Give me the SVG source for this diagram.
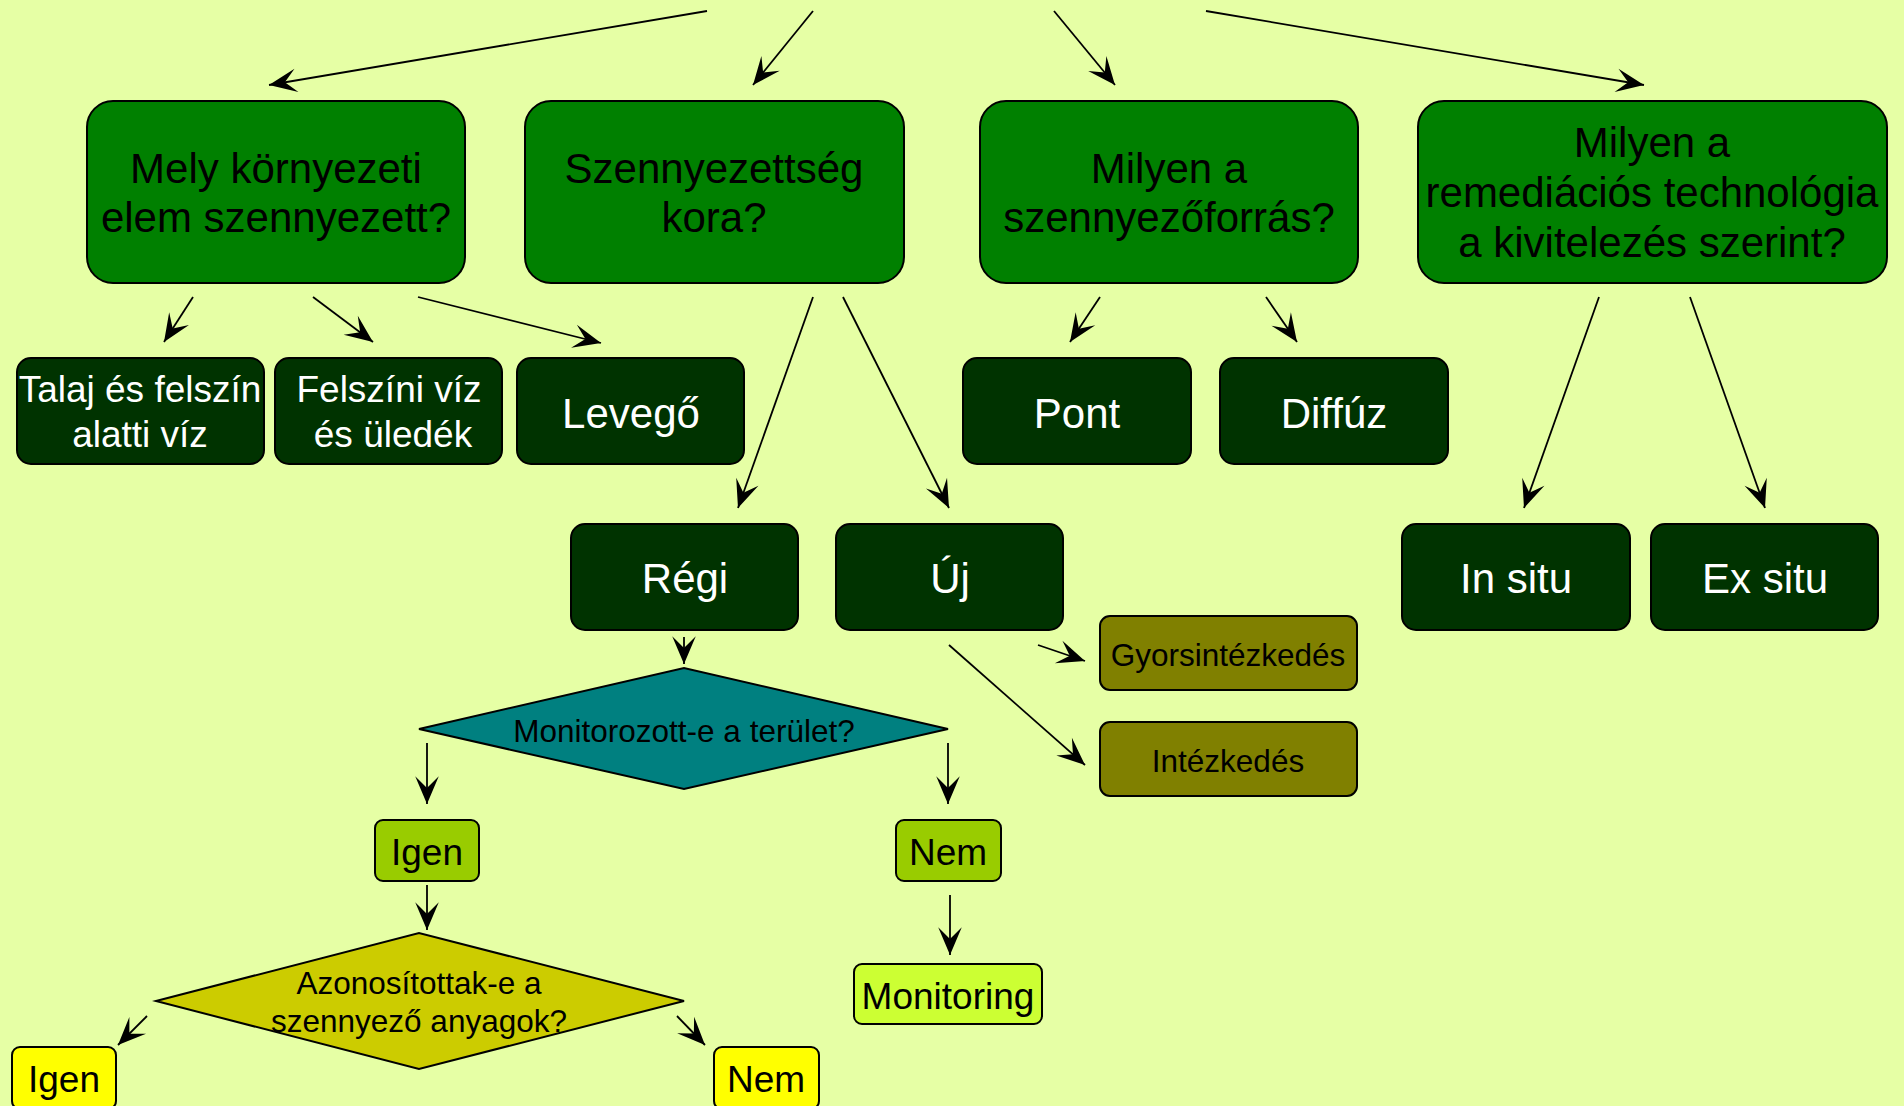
<svg xmlns="http://www.w3.org/2000/svg" width="1904" height="1106" viewBox="0 0 1904 1106">
<defs>
<style>
.t{font-family:"Liberation Sans",Arial,sans-serif;text-anchor:middle}
.q{fill:#008000;stroke:#000;stroke-width:2}
.d{fill:#003300;stroke:#000;stroke-width:2}
.o{fill:#808000;stroke:#000;stroke-width:2}
.g{fill:#99CC00;stroke:#000;stroke-width:2}
.y{fill:#FFFF00;stroke:#000;stroke-width:2}
.m{fill:#CCFF33;stroke:#000;stroke-width:2}
.w{fill:#fff}
.b{fill:#000}
.c line{stroke:#000;stroke-width:1.8;marker-end:url(#ah)}
</style>
<marker id="ah" markerUnits="userSpaceOnUse" markerWidth="30" markerHeight="30" refX="0" refY="0" viewBox="-27 -13 28 26" orient="auto">
<path d="M0,0 L-26,-11 L-15,0 L-26,11 Z" fill="#000"/>
</marker>
</defs>
<rect width="1904" height="1106" fill="#E6FFA5"/>

<g class="c" id="connectors">
<line x1="707" y1="11" x2="269" y2="85"/>
<line x1="813" y1="11" x2="753" y2="85"/>
<line x1="1054" y1="11" x2="1115" y2="85"/>
<line x1="1206" y1="11" x2="1644" y2="85"/>
<line x1="193" y1="297" x2="164" y2="342"/>
<line x1="313" y1="297" x2="373" y2="342"/>
<line x1="418" y1="297" x2="601" y2="343"/>
<line x1="813" y1="297" x2="738" y2="508"/>
<line x1="843" y1="297" x2="949" y2="508"/>
<line x1="1100" y1="297" x2="1070" y2="342"/>
<line x1="1266" y1="297" x2="1297" y2="342"/>
<line x1="1599" y1="297" x2="1524" y2="508"/>
<line x1="1690" y1="297" x2="1765" y2="508"/>
<line x1="684" y1="637" x2="684" y2="664"/>
<line x1="1038" y1="645" x2="1085" y2="661"/>
<line x1="949" y1="645" x2="1085" y2="765"/>
<line x1="427" y1="743" x2="427" y2="804"/>
<line x1="948" y1="743" x2="948" y2="804"/>
<line x1="427" y1="885" x2="427" y2="930"/>
<line x1="950" y1="895" x2="950" y2="955"/>
<line x1="147" y1="1016" x2="118" y2="1045"/>
<line x1="677" y1="1016" x2="705" y2="1045"/>
</g>

<g id="q1"><rect class="q" x="87" y="101" width="378" height="182" rx="26"/>
<text class="t b" font-size="42"><tspan x="276" y="183">Mely környezeti</tspan><tspan x="276" y="232">elem szennyezett?</tspan></text></g>
<g id="q2"><rect class="q" x="525" y="101" width="379" height="182" rx="26"/>
<text class="t b" font-size="42"><tspan x="714" y="183">Szennyezettség</tspan><tspan x="714" y="232">kora?</tspan></text></g>
<g id="q3"><rect class="q" x="980" y="101" width="378" height="182" rx="26"/>
<text class="t b" font-size="42"><tspan x="1169" y="183">Milyen a</tspan><tspan x="1169" y="232">szennyezőforrás?</tspan></text></g>
<g id="q4"><rect class="q" x="1418" y="101" width="469" height="182" rx="26"/>
<text class="t b" font-size="42"><tspan x="1652" y="157">Milyen a</tspan><tspan x="1652" y="207">remediációs technológia</tspan><tspan x="1652" y="257">a kivitelezés szerint?</tspan></text></g>

<g id="talaj"><rect class="d" x="17" y="358" width="247" height="106" rx="14"/>
<text class="t w" font-size="37"><tspan x="140" y="402">Talaj és felszín</tspan><tspan x="140" y="447">alatti víz</tspan></text></g>
<g id="felszini"><rect class="d" x="275" y="358" width="227" height="106" rx="14"/>
<text class="t w" font-size="37"><tspan x="389" y="402">Felszíni víz</tspan><tspan x="393" y="447">és üledék</tspan></text></g>
<g id="levego"><rect class="d" x="517" y="358" width="227" height="106" rx="14"/>
<text class="t w" font-size="42" x="631" y="428">Levegő</text></g>
<g id="pont"><rect class="d" x="963" y="358" width="228" height="106" rx="14"/>
<text class="t w" font-size="42" x="1077" y="428">Pont</text></g>
<g id="diffuz"><rect class="d" x="1220" y="358" width="228" height="106" rx="14"/>
<text class="t w" font-size="42" x="1334" y="428">Diffúz</text></g>
<g id="regi"><rect class="d" x="571" y="524" width="227" height="106" rx="14"/>
<text class="t w" font-size="42" x="685" y="593">Régi</text></g>
<g id="uj"><rect class="d" x="836" y="524" width="227" height="106" rx="14"/>
<text class="t w" font-size="42" x="950" y="593">Új</text></g>
<g id="insitu"><rect class="d" x="1402" y="524" width="228" height="106" rx="14"/>
<text class="t w" font-size="42" x="1516" y="593">In situ</text></g>
<g id="exsitu"><rect class="d" x="1651" y="524" width="227" height="106" rx="14"/>
<text class="t w" font-size="42" x="1765" y="593">Ex situ</text></g>

<g id="gyors"><rect class="o" x="1100" y="616" width="257" height="74" rx="10"/>
<text class="t b" font-size="31.5" x="1228" y="666">Gyorsintézkedés</text></g>
<g id="intezkedes"><rect class="o" x="1100" y="722" width="257" height="74" rx="10"/>
<text class="t b" font-size="31.5" x="1228" y="772">Intézkedés</text></g>

<g id="monitorozott"><polygon points="419,729 684,668 948,729 684,789" fill="#008080" stroke="#000" stroke-width="2"/>
<text class="t b" font-size="31.5" x="684" y="742">Monitorozott-e a terület?</text></g>

<g id="igen1"><rect class="g" x="375" y="820" width="104" height="61" rx="8"/>
<text class="t b" font-size="37" x="427" y="865">Igen</text></g>
<g id="nem1"><rect class="g" x="896" y="820" width="105" height="61" rx="8"/>
<text class="t b" font-size="37" x="948" y="865">Nem</text></g>
<g id="monitoring"><rect class="m" x="854" y="964" width="188" height="60" rx="8"/>
<text class="t b" font-size="37" x="948" y="1009">Monitoring</text></g>

<g id="azonositottak"><polygon points="156,1001 419,933 684,1001 419,1069" fill="#CCCC00" stroke="#000" stroke-width="2"/>
<text class="t b" font-size="31.5"><tspan x="419" y="994">Azonosítottak-e a</tspan><tspan x="419" y="1032">szennyező anyagok?</tspan></text></g>

<g id="igen2"><rect class="y" x="12" y="1047" width="104" height="62" rx="8"/>
<text class="t b" font-size="37" x="64" y="1092">Igen</text></g>
<g id="nem2"><rect class="y" x="714" y="1047" width="105" height="62" rx="8"/>
<text class="t b" font-size="37" x="766" y="1092">Nem</text></g>
</svg>
